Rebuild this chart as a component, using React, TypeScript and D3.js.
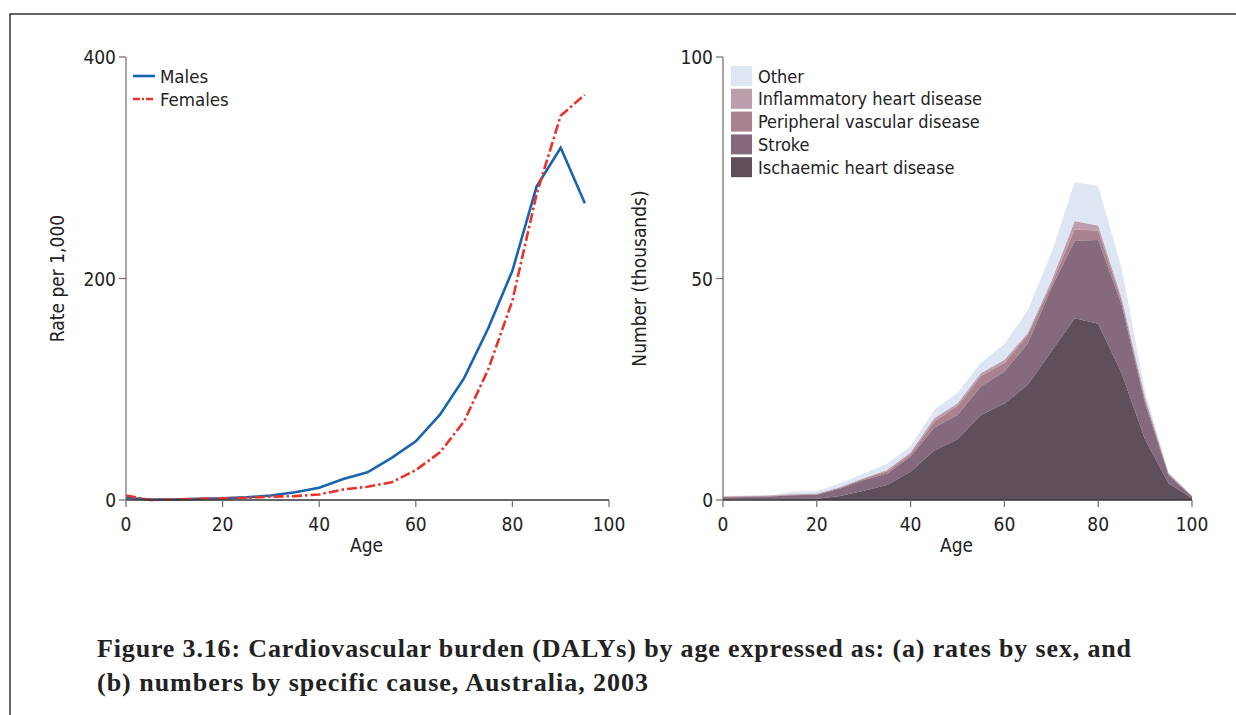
import React, { useEffect, useRef } from 'react';
import * as d3 from 'd3';

// (a) rates per 1,000 by sex
const rateAges = [0, 5, 10, 15, 20, 25, 30, 35, 40, 45, 50, 55, 60, 65, 70, 75, 80, 85, 90, 95];
const males = [2, 0.5, 0.5, 1, 1.5, 2.5, 4, 7, 11, 19, 25, 38, 53, 77, 110, 155, 207, 283, 318, 268];
const females = [4, 0, 0.5, 1, 1.5, 2, 3, 3.5, 5, 9.5, 12, 16, 27, 43, 71, 118, 180, 276, 347, 366];

// (b) numbers (thousands) by specific cause
const causeAges = [0, 5, 10, 15, 20, 25, 30, 35, 40, 45, 50, 55, 60, 65, 70, 75, 80, 85, 90, 95, 100];
const ischaemic = [0.1, 0.1, 0.1, 0.2, 0.3, 0.9, 2.1, 3.4, 6.4, 11.1, 13.7, 19.2, 21.8, 26.0, 33.5, 41.0, 39.8, 28.6, 13.6, 3.8, 0.4];
const stroke = [0.5, 0.6, 0.7, 0.9, 0.9, 1.7, 2.4, 2.6, 3.4, 5.2, 5.5, 6.4, 7.2, 9.4, 14.3, 17.5, 18.9, 15.5, 8.2, 1.8, 0.4];
const peripheral = [0.1, 0.1, 0.1, 0.1, 0.1, 0.2, 0.3, 0.5, 0.5, 1.4, 2.0, 2.4, 1.9, 1.9, 0.8, 2.6, 2.1, 0.9, 0.8, 0.3, 0.05];
const inflammatory = [0.1, 0.1, 0.1, 0.1, 0.1, 0.1, 0.1, 0.3, 0.4, 0.7, 0.6, 0.6, 0.7, 0.4, 0.7, 1.8, 1.1, 0.5, 0.4, 0.1, 0.05];
const other = [0.1, 0.1, 0.1, 0.6, 0.6, 0.9, 1.1, 1.3, 1.5, 1.9, 2.4, 2.4, 3.6, 5.2, 6.4, 8.9, 9.0, 6.8, 1.5, 0.2, 0.1];

const causeNames = ['Ischaemic heart disease', 'Stroke', 'Peripheral vascular disease', 'Inflammatory heart disease', 'Other'];
const causeColors = ['#5f4f5b', '#856a7d', '#a9818f', '#bb9dab', '#dee5f3'];

const xTicks = [0, 20, 40, 60, 80, 100];
const rateTicks = [0, 200, 400];
const numberTicks = [0, 50, 100];

const FONT = '"Liberation Sans Narrow", "DejaVu Sans Condensed", sans-serif';

const App = () => {
  const ref = useRef(null);

  useEffect(() => {
    const svg = d3.select(ref.current);
    svg.selectAll('*').remove();

    // frame
    svg.append('path')
      .attr('d', 'M10,715 L10,14 L1236,14')
      .attr('fill', 'none')
      .attr('stroke', '#333')
      .attr('stroke-width', 1.5);

    const drawAxes = (g, x, y, yTicks, yLabel, labelX) => {
      const axisColor = '#777';
      const [x0, x1] = x.range();
      const [y0, y1] = y.range();
      g.append('line').attr('x1', x0).attr('x2', x0).attr('y1', y0).attr('y2', y1)
        .attr('stroke', axisColor).attr('stroke-width', 1.3);
      g.append('line').attr('x1', x0).attr('x2', x1).attr('y1', y0).attr('y2', y0)
        .attr('stroke', '#333').attr('stroke-width', 1.3);

      xTicks.forEach(t => {
        g.append('line').attr('x1', x(t)).attr('x2', x(t)).attr('y1', y0).attr('y2', y0 + 7)
          .attr('stroke', axisColor).attr('stroke-width', 1.3);
        g.append('text').attr('x', x(t)).attr('y', y0 + 31)
          .attr('text-anchor', 'middle').attr('font-size', 19).attr('font-family', FONT)
          .attr('fill', '#222').text(t);
      });
      yTicks.forEach(t => {
        g.append('line').attr('x1', x0 - 7).attr('x2', x0).attr('y1', y(t)).attr('y2', y(t))
          .attr('stroke', axisColor).attr('stroke-width', 1.3);
        g.append('text').attr('x', x0 - 10).attr('y', y(t) + 7)
          .attr('text-anchor', 'end').attr('font-size', 19).attr('font-family', FONT)
          .attr('fill', '#222').text(t);
      });

      g.append('text').attr('x', (x0 + x1) / 2 - 1).attr('y', y0 + 52)
        .attr('text-anchor', 'middle').attr('font-size', 19).attr('font-family', FONT)
        .attr('fill', '#222').text('Age');
      g.append('text')
        .attr('transform', `translate(${labelX},${(y0 + y1) / 2}) rotate(-90)`)
        .attr('text-anchor', 'middle').attr('font-size', 19).attr('font-family', FONT)
        .attr('fill', '#222').text(yLabel);
    };

    // ---- left: rates by sex
    const xL = d3.scaleLinear().domain([0, 100]).range([126, 609]);
    const yL = d3.scaleLinear().domain([0, 400]).range([500, 57]);
    const left = svg.append('g');

    const line = d3.line()
      .x((d, i) => xL(rateAges[i]))
      .y(d => yL(d));

    left.append('path').datum(males).attr('d', line)
      .attr('fill', 'none').attr('stroke', '#1a63ad').attr('stroke-width', 2.6);
    left.append('path').datum(females).attr('d', line)
      .attr('fill', 'none').attr('stroke', '#e8332b').attr('stroke-width', 2.6)
      .attr('stroke-dasharray', '10,3,2.5,3');

    drawAxes(left, xL, yL, rateTicks, 'Rate per 1,000', 64);

    const sexLegend = [
      { name: 'Males', color: '#1a63ad', dash: null },
      { name: 'Females', color: '#e8332b', dash: '7,2,2,2' }
    ];
    sexLegend.forEach((s, i) => {
      const yy = 76 + i * 23;
      left.append('line').attr('x1', 133).attr('x2', 155).attr('y1', yy).attr('y2', yy)
        .attr('stroke', s.color).attr('stroke-width', 2.6)
        .attr('stroke-dasharray', s.dash);
      left.append('text').attr('x', 160).attr('y', yy + 7)
        .attr('font-size', 18.5).attr('font-family', FONT).attr('fill', '#222').text(s.name);
    });

    // ---- right: numbers by cause (stacked)
    const xR = d3.scaleLinear().domain([0, 100]).range([723, 1192]);
    const yR = d3.scaleLinear().domain([0, 100]).range([500, 57]);
    const right = svg.append('g');

    const series = [ischaemic, stroke, peripheral, inflammatory, other];
    const rows = causeAges.map((a, i) => {
      const r = { age: a };
      causeNames.forEach((n, k) => { r[n] = series[k][i]; });
      return r;
    });
    const stacked = d3.stack().keys(causeNames)(rows);
    const area = d3.area()
      .x(d => xR(d.data.age))
      .y0(d => yR(d[0]))
      .y1(d => yR(d[1]));

    // draw top layer first so lower ones sit above it
    stacked.slice().reverse().forEach(layer => {
      const k = causeNames.indexOf(layer.key);
      right.append('path').datum(layer).attr('d', area)
        .attr('fill', causeColors[k]).attr('stroke', 'none');
    });

    drawAxes(right, xR, yR, numberTicks, 'Number (thousands)', 646);

    const legendOrder = causeNames.slice().reverse();
    legendOrder.forEach((n, i) => {
      const k = causeNames.indexOf(n);
      const yy = 66 + i * 22.8;
      right.append('rect').attr('x', 731).attr('y', yy).attr('width', 21).attr('height', 20)
        .attr('fill', causeColors[k]);
      right.append('text').attr('x', 758).attr('y', yy + 16.5)
        .attr('font-size', 18).attr('font-family', FONT).attr('fill', '#222').text(n);
    });

    // caption
    const captionLines = [
      { text: 'Figure 3.16: Cardiovascular burden (DALYs) by age expressed as: (a) rates by sex, and', w: 1034 },
      { text: '(b) numbers by specific cause, Australia, 2003', w: 551 }
    ];
    captionLines.forEach((c, i) => {
      svg.append('text').attr('x', 97).attr('y', 657 + i * 34)
        .attr('font-size', 26).attr('font-weight', 'bold')
        .attr('font-family', '"Liberation Serif", "DejaVu Serif", serif')
        .attr('textLength', c.w).attr('lengthAdjust', 'spacing')
        .attr('fill', '#222').text(c.text);
    });

    return () => {
      d3.select(ref.current).selectAll('*').remove();
    };
  }, []);

  return (
    <svg ref={ref} width={1236} height={715}
      style={{ position: 'absolute', left: 0, top: 0, background: '#fff' }} />
  );
};

export default App;
